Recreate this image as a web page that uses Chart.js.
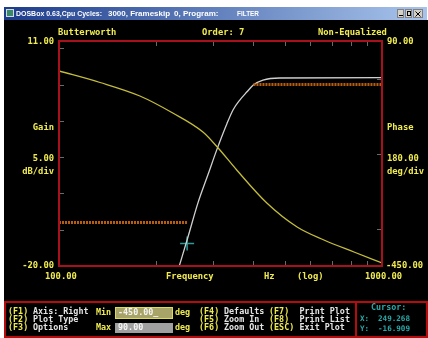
<!DOCTYPE html>
<html>
<head>
<meta charset="utf-8">
<script src="https://cdn.jsdelivr.net/npm/chart.js@4"></script>
<style>
  html, body { margin: 0; padding: 0; background: #ffffff; }
  #plot { display: block; }
</style>
</head>
<body>
<canvas id="plot" width="428" height="338"></canvas>
<script>
// frequency axis (log) ticks, gain ticks (dB), phase ticks (deg)
const freqTicks = [200, 300, 400, 500, 600, 700, 800, 900];
const gainTicks = [10, 5, 0, -5, -10, -15];
const phaseTicks = [0, -180, -360];

// gain response (white curve, left axis)
const gainFreq = [235.7, 250.8, 269.3, 289.3, 308.5, 331, 345.7, 363.4, 382, 398.7, 428, 483, 1000];
const gainDb   = [-20, -16.0, -11.3, -7.4, -3.9, -0.4, 1.5, 2.9, 4.0, 4.9, 5.6, 5.9, 5.95];

// phase response (yellow curve, right axis)
const phaseFreq = [100, 134, 178, 225, 279, 311, 355, 440, 546, 661, 819, 1000];
const phaseDeg  = [18, -9.6, -42, -82.8, -128.4, -166.8, -219.6, -298.8, -356.4, -387.6, -416.4, -442.8];

// spec limits (orange)
const stopFreq = [100, 249];
const stopDb   = [-14, -14];
const passFreq = [400, 1000];
const passDb   = [5, 5];

// cursor
const cursorX = 249.268;
const cursorY = -16.909;

const YEL = '#f0ec50';
const WHT = '#e4e4e4';
const CYAN = '#28a8a8';
const MONO = "'DejaVu Sans Mono', monospace";

const pts = (xs, ys) => xs.map((x, i) => ({ x: x, y: ys[i] }));

function txt(ctx, s, x, y, color, align, size) {
  ctx.font = 'bold ' + (size || 8.8) + 'px ' + MONO;
  ctx.fillStyle = color;
  ctx.textAlign = align || 'left';
  ctx.textBaseline = 'middle';
  ctx.fillText(s, x, y);
}

const chrome = {
  id: 'chrome',
  beforeDraw(chart) {
    const ctx = chart.ctx;
    ctx.save();
    ctx.fillStyle = '#ffffff';
    ctx.fillRect(0, 0, 428, 338);
    // title bar
    const g = ctx.createLinearGradient(4, 0, 427, 0);
    g.addColorStop(0, '#1c3c8c');
    g.addColorStop(1, '#a8c4ec');
    ctx.fillStyle = g;
    ctx.fillRect(4, 7, 423, 13);
    // icon
    ctx.fillStyle = '#d0d8e0';
    ctx.fillRect(6, 9, 8, 8);
    ctx.fillStyle = '#3a8a6a';
    ctx.fillRect(7, 10, 6, 6);
    ctx.font = "bold 8px 'Liberation Sans', sans-serif";
    ctx.fillStyle = '#ffffff';
    ctx.textBaseline = 'middle';
    ctx.textAlign = 'left';
    ctx.fillText('DOSBox 0.63,Cpu Cycles:', 16, 13.5, 86);
    ctx.fillText('3000, Frameskip', 108, 13.5, 62);
    ctx.fillText('0, Program:', 174, 13.5, 58);
    ctx.fillText('FILTER', 237, 13.5, 22);
    // window buttons
    [[397, 7], [405, 7], [413, 10]].forEach(([bx, bw]) => {
      ctx.fillStyle = '#d4d0c8';
      ctx.fillRect(bx, 9, bw, 9);
      ctx.strokeStyle = '#808080';
      ctx.lineWidth = 1;
      ctx.strokeRect(bx + 0.5, 9.5, bw - 1, 8);
    });
    ctx.fillStyle = '#000';
    ctx.fillRect(399, 15, 4, 1);
    ctx.strokeStyle = '#000';
    ctx.strokeRect(407.5, 11.5, 3, 4);
    ctx.beginPath();
    ctx.moveTo(415.5, 11.5); ctx.lineTo(420.5, 16.5);
    ctx.moveTo(420.5, 11.5); ctx.lineTo(415.5, 16.5);
    ctx.stroke();
    // client area
    ctx.fillStyle = '#000000';
    ctx.fillRect(4, 20, 424, 318);
    ctx.restore();
  },
  beforeDatasetsDraw(chart) {
    const ctx = chart.ctx;
    const x = chart.scales.x, yL = chart.scales.yL, yR = chart.scales.yR;
    const a = chart.chartArea;
    ctx.save();
    ctx.strokeStyle = '#6a6a6a';
    ctx.lineWidth = 1;
    ctx.beginPath();
    freqTicks.forEach(f => {
      const px = Math.round(x.getPixelForValue(f)) + 0.5;
      ctx.moveTo(px, a.top); ctx.lineTo(px, a.top + 5);
      ctx.moveTo(px, a.bottom); ctx.lineTo(px, a.bottom - 5);
    });
    gainTicks.forEach(v => {
      const py = Math.round(yL.getPixelForValue(v)) + 0.5;
      ctx.moveTo(a.left, py); ctx.lineTo(a.left + 5, py);
    });
    phaseTicks.forEach(v => {
      const py = Math.round(yR.getPixelForValue(v)) + 0.5;
      ctx.moveTo(a.right, py); ctx.lineTo(a.right - 5, py);
    });
    ctx.stroke();
    ctx.restore();
  },
  afterDraw(chart) {
    const ctx = chart.ctx;
    const a = chart.chartArea;
    ctx.save();
    // plot frame
    ctx.strokeStyle = '#a8101c';
    ctx.lineWidth = 2;
    ctx.strokeRect(a.left, a.top, a.right - a.left, a.bottom - a.top);

    // header
    txt(ctx, 'Butterworth', 58, 33, YEL);
    txt(ctx, 'Order: 7', 202, 33, YEL);
    txt(ctx, 'Non-Equalized', 318, 33, YEL);

    // left axis
    txt(ctx, '11.00', 54, 42, YEL, 'right');
    txt(ctx, 'Gain', 54, 128, YEL, 'right');
    txt(ctx, '5.00', 54, 159, YEL, 'right');
    txt(ctx, 'dB/div', 54, 172, YEL, 'right');
    txt(ctx, '-20.00', 54, 266, YEL, 'right');

    // right axis
    txt(ctx, '90.00', 387, 42, YEL);
    txt(ctx, 'Phase', 387, 128, YEL);
    txt(ctx, '180.00', 387, 159, YEL);
    txt(ctx, 'deg/div', 387, 172, YEL);
    txt(ctx, '-450.00', 386, 266, YEL);

    // bottom axis
    txt(ctx, '100.00', 45, 276.5, YEL);
    txt(ctx, 'Frequency', 166, 276.5, YEL);
    txt(ctx, 'Hz', 264, 276.5, YEL);
    txt(ctx, '(log)', 297, 276.5, YEL);
    txt(ctx, '1000.00', 365, 276.5, YEL);

    // control panel
    ctx.strokeStyle = '#b80c0c';
    ctx.lineWidth = 2;
    ctx.strokeRect(5, 302, 422, 35);
    ctx.beginPath();
    ctx.moveTo(356, 302); ctx.lineTo(356, 337);
    ctx.stroke();

    const fs = 8.4;
    txt(ctx, '(F1)', 8, 312, YEL, 'left', fs);
    txt(ctx, 'Axis: Right', 33, 312, WHT, 'left', fs);
    txt(ctx, '(F2)', 8, 320, YEL, 'left', fs);
    txt(ctx, 'Plot Type', 33, 320, WHT, 'left', fs);
    txt(ctx, '(F3)', 8, 328, YEL, 'left', fs);
    txt(ctx, 'Options', 33, 328, WHT, 'left', fs);

    txt(ctx, 'Min', 96, 312.5, YEL, 'left', fs);
    txt(ctx, 'Max', 96, 328, YEL, 'left', fs);
    ctx.fillStyle = '#a8a468';
    ctx.fillRect(115, 307, 58, 12);
    ctx.strokeStyle = '#e0dc50';
    ctx.lineWidth = 1;
    ctx.strokeRect(115.5, 307.5, 57, 11);
    ctx.fillStyle = '#a0a0a0';
    ctx.fillRect(115, 323, 58, 10);
    txt(ctx, '-450.00_', 118, 313, '#f4f4f4', 'left', fs);
    txt(ctx, '90.00', 118, 328, '#f4f4f4', 'left', fs);
    txt(ctx, 'deg', 175, 313, YEL, 'left', fs);
    txt(ctx, 'deg', 175, 328, YEL, 'left', fs);

    txt(ctx, '(F4)', 199, 312, YEL, 'left', fs);
    txt(ctx, 'Defaults', 224, 312, WHT, 'left', fs);
    txt(ctx, '(F5)', 199, 320, YEL, 'left', fs);
    txt(ctx, 'Zoom In', 224, 320, WHT, 'left', fs);
    txt(ctx, '(F6)', 199, 328, YEL, 'left', fs);
    txt(ctx, 'Zoom Out', 224, 328, WHT, 'left', fs);

    txt(ctx, '(F7)', 269, 312, YEL, 'left', fs);
    txt(ctx, 'Print Plot', 299.5, 312, WHT, 'left', fs);
    txt(ctx, '(F8)', 269, 320, YEL, 'left', fs);
    txt(ctx, 'Print List', 299.5, 320, WHT, 'left', fs);
    txt(ctx, '(ESC)', 269, 328, YEL, 'left', fs);
    txt(ctx, 'Exit Plot', 299.5, 328, WHT, 'left', fs);

    txt(ctx, 'Cursor:', 371, 308, CYAN, 'left', fs);
    txt(ctx, 'X:', 360, 319, CYAN, 'left', 7.6);
    txt(ctx, cursorX.toFixed(3), 410, 319, CYAN, 'right', 7.6);
    txt(ctx, 'Y:', 360, 329, CYAN, 'left', 7.6);
    txt(ctx, cursorY.toFixed(3), 410, 329, CYAN, 'right', 7.6);
    ctx.restore();
  }
};

new Chart(document.getElementById('plot'), {
  type: 'line',
  data: {
    datasets: [
      {
        label: 'Stopband limit',
        data: pts(stopFreq, stopDb),
        yAxisID: 'yL',
        borderColor: '#b85c10',
        borderWidth: 3,
        borderDash: [2, 1],
        pointRadius: 0
      },
      {
        label: 'Passband limit',
        data: pts(passFreq, passDb),
        yAxisID: 'yL',
        borderColor: '#b85c10',
        borderWidth: 3,
        borderDash: [2, 1],
        pointRadius: 0
      },
      {
        label: 'Phase',
        data: pts(phaseFreq, phaseDeg),
        yAxisID: 'yR',
        borderColor: '#c4bc3c',
        borderWidth: 1.3,
        pointRadius: 0,
        cubicInterpolationMode: 'monotone'
      },
      {
        label: 'Gain',
        data: pts(gainFreq, gainDb),
        yAxisID: 'yL',
        borderColor: '#d0d0d0',
        borderWidth: 1.3,
        pointRadius: 0,
        cubicInterpolationMode: 'monotone'
      },
      {
        label: 'Cursor',
        data: [{ x: cursorX, y: cursorY }],
        yAxisID: 'yL',
        showLine: false,
        pointStyle: 'cross',
        pointRadius: 7,
        pointBorderColor: '#2a9a9a',
        pointBorderWidth: 1.5
      }
    ]
  },
  options: {
    responsive: false,
    devicePixelRatio: 1,
    animation: false,
    layout: { padding: { left: 59, right: 46, top: 41, bottom: 72 } },
    plugins: { legend: { display: false }, tooltip: { enabled: false } },
    scales: {
      x: { type: 'logarithmic', min: 100, max: 1000, display: false },
      yL: { type: 'linear', position: 'left', min: -20, max: 11, display: false },
      yR: { type: 'linear', position: 'right', min: -450, max: 90, display: false }
    }
  },
  plugins: [chrome]
});
</script>
</body>
</html>
